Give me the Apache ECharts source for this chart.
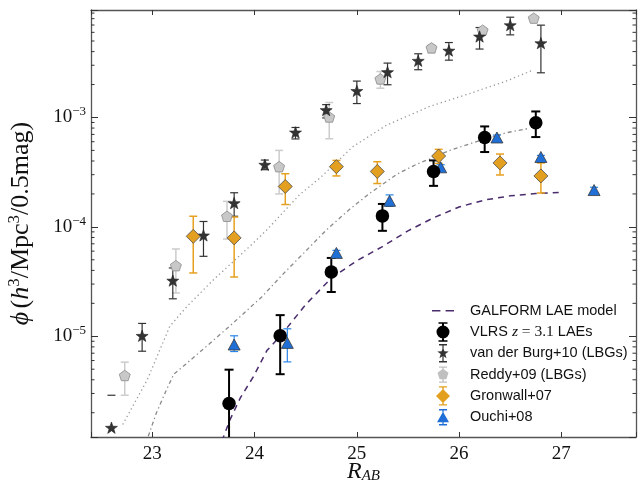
<!DOCTYPE html>
<html><head><meta charset="utf-8">
<script src="https://cdn.jsdelivr.net/npm/echarts@6/dist/echarts.min.js"></script>
<style>html,body{margin:0;padding:0;background:#fff}#c{width:643px;height:485px}</style>
</head><body><div id="c"></div>
<script>
// ---- axis ticks ----
const xTicks = [23, 24, 25, 26, 27];
const yTickExps = [-5, -4, -3];
const xMin = 22.4, xMax = 27.73, yMin = 1.2e-6, yMax = 9.6e-3;

// ---- series names ----
const names = ['GALFORM LAE model', 'VLRS z = 3.1 LAEs', 'van der Burg+10 (LBGs)', 'Reddy+09 (LBGs)', 'Gronwall+07', 'Ouchi+08'];

// ---- model lines ----
const galformX = [23.68, 23.76, 23.86, 23.99, 24.12, 24.25, 24.5, 24.75, 25.0, 25.25, 25.5, 25.75, 26.0, 26.25, 26.5, 26.75, 27.0];
const galformY = [1.1e-6, 1.73e-6, 2.73e-6, 4.3e-6, 7.4e-6, 1.0e-5, 1.95e-5, 3.4e-5, 4.9e-5, 6.6e-5, 9.2e-5, 1.21e-4, 1.52e-4, 1.76e-4, 1.92e-4, 2.02e-4, 2.07e-4];
const lbgModelX = [22.71, 22.95, 23.17, 23.34, 23.6, 23.95, 24.12, 24.44, 24.64, 24.96, 25.29, 25.71, 26.1, 26.46, 26.73];
const lbgModelY = [1.56e-6, 4.0e-6, 1.23e-5, 1.88e-5, 3.3e-5, 6.6e-5, 9.4e-5, 1.97e-4, 2.8e-4, 5.4e-4, 8.5e-4, 1.26e-3, 1.65e-3, 2.15e-3, 2.73e-3];
const laeModelX = [22.96, 23.04, 23.14, 23.21, 23.34, 23.53, 23.79, 24.07, 24.28, 24.48, 24.7, 24.93, 25.13, 25.39, 25.58, 25.71, 25.91, 26.14, 26.46, 26.68];
const laeModelY = [1.22e-6, 2.0e-6, 3.27e-6, 4.5e-6, 5.7e-6, 8.1e-6, 1.32e-5, 2.29e-5, 3.72e-5, 5.75e-5, 9.33e-5, 1.45e-4, 2.04e-4, 3.02e-4, 3.72e-4, 4.17e-4, 5.01e-4, 5.89e-4, 7.24e-4, 7.94e-4];

// ---- VLRS ----
const vlrsX  = [23.75, 24.25, 24.75, 25.25, 25.75, 26.25, 26.75];
const vlrsY  = [2.43e-6, 1.01e-5, 3.87e-5, 1.26e-4, 3.21e-4, 6.56e-4, 8.95e-4];
const vlrsLo = [5e-7, 4.5e-6, 2.54e-5, 9.2e-5, 2.37e-4, 4.83e-4, 6.62e-4];
const vlrsHi = [4.95e-6, 1.56e-5, 5.2e-5, 1.62e-4, 4.05e-4, 8.28e-4, 1.135e-3];

// ---- van der Burg+10 ----
const vdbX  = [22.6, 22.9, 23.2, 23.5, 23.8, 24.1, 24.4, 24.7, 25.0, 25.3, 25.6, 25.9, 26.2, 26.5, 26.8];
const vdbY  = [1.46e-6, 1.01e-5, 3.23e-5, 8.36e-5, 1.65e-4, 3.7e-4, 7.3e-4, 1.17e-3, 1.75e-3, 2.6e-3, 3.3e-3, 4.09e-3, 5.5e-3, 6.98e-3, 4.78e-3];
const vdbLo = [0, 7.3e-6, 2.2e-5, 5.38e-5, 1.25e-4, 3.33e-4, 6.36e-4, 9.9e-4, 1.34e-3, 1.99e-3, 2.73e-3, 3.34e-3, 4.22e-3, 5.69e-3, 2.56e-3];
const vdbHi = [2.89e-6, 1.31e-5, 4.21e-5, 1.12e-4, 2.05e-4, 4.08e-4, 8.1e-4, 1.31e-3, 2.15e-3, 3.14e-3, 3.82e-3, 4.84e-3, 6.64e-3, 8.25e-3, 6.98e-3];

// ---- Reddy+09 ----
const redX  = [22.73, 23.23, 23.73, 24.24, 24.73, 25.23, 25.73, 26.23, 26.73];
const redY  = [4.38e-6, 4.42e-5, 1.25e-4, 3.55e-4, 1.01e-3, 2.25e-3, 4.33e-3, 6.28e-3, 8.09e-3];
const redLo = [2.89e-6, 2.49e-5, 7.74e-5, 2.0e-4, 6.39e-4, 1.85e-3, 3.9e-3, 5.9e-3, 7.7e-3];
const redHi = [5.8e-6, 6.28e-5, 1.71e-4, 5.0e-4, 1.37e-3, 2.63e-3, 4.6e-3, 6.6e-3, 8.4e-3];

// ---- Gronwall+07 ----
const groX  = [23.4, 23.8, 24.3, 24.8, 25.2, 25.8, 26.4, 26.8];
const groY  = [8.19e-5, 7.93e-5, 2.34e-4, 3.55e-4, 3.21e-4, 4.44e-4, 3.84e-4, 2.92e-4];
const groLo = [3.79e-5, 3.48e-5, 1.6e-4, 2.92e-4, 2.49e-4, 3.8e-4, 2.98e-4, 2.04e-4];
const groHi = [1.25e-4, 1.23e-4, 3.06e-4, 4.05e-4, 3.94e-4, 5.11e-4, 4.63e-4, 3.84e-4];

// ---- Ouchi+08 ----
const ouX  = [23.8, 24.32, 24.8, 25.32, 25.82, 26.37, 26.8, 27.32];
const ouY  = [8.4e-6, 8.7e-6, 5.78e-5, 1.73e-4, 3.5e-4, 6.56e-4, 4.35e-4, 2.17e-4];
const ouLo = [7.25e-6, 5.83e-6, 5.4e-5, 1.54e-4, 3.3e-4, 6.2e-4, 3.94e-4, 2.05e-4];
const ouHi = [1.01e-5, 1.17e-5, 6.1e-5, 1.96e-4, 3.7e-4, 6.9e-4, 4.5e-4, 2.3e-4];

const pairs = (xs, ys) => xs.map((x, i) => [x, ys[i]]);
const quads = (xs, ys, lo, hi) => xs.map((x, i) => [x, ys[i], lo[i], hi[i]]);

const STAR = 'path://M0,-10L2.35,-3.24L9.51,-3.09L3.8,1.24L5.88,8.09L0,4L-5.88,8.09L-3.8,1.24L-9.51,-3.09L-2.35,-3.24Z';
const PENT = 'path://M0,-10L9.51,-3.09L5.88,8.09L-5.88,8.09L-9.51,-3.09Z';

// legend icons (marker + error bar), in a 22x20 box
const BOX = 'M-11,-10M11,10';
const bar = (h, w, c) => 'M' + (-w / 2) + ',' + (-h) + 'H' + (w / 2) + 'V' + h + 'H' + (-w / 2) + 'Z' +
  'M' + (-c) + ',' + (-h - 0.7) + 'H' + c + 'V' + (-h + 0.7) + 'H' + (-c) + 'Z' +
  'M' + (-c) + ',' + (h - 0.7) + 'H' + c + 'V' + (h + 0.7) + 'H' + (-c) + 'Z';
const ICONS = [
  'path://' + BOX + 'M-11,-0.75H-2.6V0.75H-11Z M2.6,-0.75H11V0.75H2.6Z',
  'path://' + BOX + 'M-6.5,0A6.5,6.5 0 1,1 6.5,0A6.5,6.5 0 1,1 -6.5,0Z' + bar(9, 2, 4.5),
  'path://' + BOX + 'M0,-6L1.41,-1.94L5.71,-1.85L2.28,0.74L3.53,4.85L0,2.4L-3.53,4.85L-2.28,0.74L-5.71,-1.85L-1.41,-1.94Z' + bar(8.5, 1.2, 4),
  'path://' + BOX + 'M0,-5.8L5.5,-1.8L3.4,4.7L-3.4,4.7L-5.5,-1.8Z' + bar(7.5, 1.3, 4),
  'path://' + BOX + 'M0,-7L7,0L0,7L-7,0Z' + bar(9, 1.4, 4),
  'path://' + BOX + 'M0,-5.5L6,5L-6,5Z' + bar(7.5, 1.2, 4)
];
const legendFill = ['#4a2c6d', '#000000', '#333333', '#c0c0c0', '#e3a020', '#1f6fd6'];

function errSeries(data, color, width, cap) {
  return {
    type: 'custom', name: '_err', clip: true, silent: true, z: 3,
    encode: {x: 0, y: 1},
    data: data,
    renderItem: function (params, api) {
      const x = api.value(0), lo = api.value(2), hi = api.value(3);
      const ph = api.coord([x, hi]);
      const st = {stroke: color, lineWidth: width};
      const ch = [];
      if (lo > 0) {
        const pl = api.coord([x, lo]);
        ch.push({type: 'line', shape: {x1: pl[0], y1: pl[1], x2: ph[0], y2: ph[1]}, style: st});
        ch.push({type: 'line', shape: {x1: pl[0] - cap, y1: pl[1], x2: pl[0] + cap, y2: pl[1]}, style: st});
      }
      ch.push({type: 'line', shape: {x1: ph[0] - cap, y1: ph[1], x2: ph[0] + cap, y2: ph[1]}, style: st});
      return {type: 'group', children: ch};
    }
  };
}

// minor tick positions (2..9 x 10^n inside the range)
const minorVals = [];
for (let e = -6; e <= -3; e++) for (let m = 2; m <= 9; m++) {
  const v = m * Math.pow(10, e);
  if (v > yMin && v < yMax) minorVals.push([xMin, v]);
}

const frame = {color: '#555', width: 1.3};
const serif = 'Liberation Serif';

const option = {
  animation: false,
  backgroundColor: '#fff',
  grid: {left: 91, right: 7, top: 10, bottom: 48, outerBoundsMode: 'none', containLabel: false},
  xAxis: [{
    type: 'value', min: xMin, max: xMax, position: 'bottom',
    axisLine: {show: true, onZero: false, lineStyle: frame},
    axisTick: {show: true, inside: true, length: 5, lineStyle: {color: '#333', width: 1}},
    splitLine: {show: false},
    axisLabel: {
      margin: 8, color: '#111', fontFamily: serif, fontSize: 19,
      formatter: v => xTicks.includes(Math.round(v * 1000) / 1000) ? String(v) : ''
    },
    name: '{r|R}{s|AB}', nameLocation: 'middle', nameGap: 22, nameMoveOverlap: false,
    nameTextStyle: {
      rich: {
        r: {fontFamily: serif, fontStyle: 'italic', fontSize: 24, color: '#111'},
        s: {fontFamily: serif, fontStyle: 'italic', fontSize: 15, color: '#111', padding: [10, 0, 0, 0]}
      }
    }
  }, {
    type: 'value', min: xMin, max: xMax, position: 'top',
    axisLine: {show: true, onZero: false, lineStyle: frame},
    axisTick: {show: true, inside: true, length: 5, lineStyle: {color: '#333', width: 1}},
    axisLabel: {show: false}, splitLine: {show: false}
  }],
  yAxis: [{
    type: 'log', logBase: 10, min: yMin, max: yMax, position: 'left',
    axisLine: {show: true, onZero: false, lineStyle: frame},
    axisTick: {show: true, inside: true, length: 7, lineStyle: {color: '#333', width: 1}},
    splitLine: {show: false}, minorTick: {show: false},
    axisLabel: {
      margin: 5, color: '#111',
      formatter: function (v) {
        const e = Math.log10(v), r = Math.round(e);
        if (Math.abs(e - r) < 1e-6 && yTickExps.includes(r)) return '{b|10}{e|\u2212' + (-r) + '}';
        return '';
      },
      rich: {
        b: {fontFamily: serif, fontSize: 19, color: '#111'},
        e: {fontFamily: serif, fontSize: 13, color: '#111', padding: [0, 0, 11, 0]}
      }
    },
    name: '{i|\u03D5} {a|(}{i|h}{s|3}{a|/Mpc}{s|3}{a|/0.5mag)}',
    nameLocation: 'middle', nameGap: 55, nameRotate: 90, nameMoveOverlap: false,
    nameTextStyle: {
      rich: {
        a: {fontFamily: serif, fontSize: 26, color: '#111'},
        i: {fontFamily: serif, fontStyle: 'italic', fontSize: 26, color: '#111'},
        s: {fontFamily: serif, fontSize: 17, color: '#111', padding: [0, 0, 13, 0]}
      }
    }
  }, {
    type: 'log', logBase: 10, min: yMin, max: yMax, position: 'right',
    axisLine: {show: true, onZero: false, lineStyle: frame},
    axisTick: {show: true, inside: true, length: 7, lineStyle: {color: '#333', width: 1}},
    axisLabel: {show: false}, splitLine: {show: false}
  }],
  legend: {
    orient: 'vertical', left: 432, top: 300.7, padding: 0, itemWidth: 22, itemHeight: 20, itemGap: 1.3,
    selectedMode: false, align: 'left', symbolKeepAspect: true,
    data: names.map((n, i) => ({name: n, icon: ICONS[i],
      itemStyle: {color: legendFill[i], borderWidth: 0, opacity: 1}})),
    formatter: function (n) {
      if (n === names[1]) return '{t|VLRS }{m|z}{n| = 3.1}{t| LAEs}';
      return n;
    },
    textStyle: {
      fontFamily: 'Liberation Sans', fontSize: 14.5, color: '#111', lineHeight: 14, padding: [0, 0, 0, 11],
      rich: {
        t: {fontFamily: 'Liberation Sans', fontSize: 14.5, color: '#111', lineHeight: 14},
        m: {fontFamily: serif, fontStyle: 'italic', fontSize: 15.5, color: '#111', lineHeight: 14},
        n: {fontFamily: serif, fontSize: 15.5, color: '#111', lineHeight: 14}
      }
    }
  },
  series: [
    {type: 'line', name: '_lbgmodel', data: pairs(lbgModelX, lbgModelY), showSymbol: false, symbol: 'none', z: 1,
      lineStyle: {color: '#9a9a9a', width: 1.3, type: [1.3, 3]}, silent: true},
    {type: 'line', name: '_laemodel', data: pairs(laeModelX, laeModelY), showSymbol: false, symbol: 'none', z: 1,
      lineStyle: {color: '#8a8a8a', width: 1.3, type: [4, 3, 1.3, 3]}, silent: true},
    {type: 'line', name: names[0], data: pairs(galformX, galformY), showSymbol: false, symbol: 'none', z: 1,
      itemStyle: {color: '#4a2c6d'},
      lineStyle: {color: '#4a2c6d', width: 1.5, type: [6, 5]}},
    {type: 'custom', name: '_minor', silent: true, z: 5, data: minorVals, encode: {x: 0, y: 1},
      renderItem: function (params, api) {
        const p = api.coord([xMin, api.value(1)]);
        const q = api.coord([xMax, api.value(1)]);
        const st = {stroke: '#333', lineWidth: 1};
        return {type: 'group', children: [
          {type: 'line', shape: {x1: p[0], y1: p[1], x2: p[0] + 3.5, y2: p[1]}, style: st},
          {type: 'line', shape: {x1: q[0] - 3.5, y1: q[1], x2: q[0], y2: q[1]}, style: st}
        ]};
      }},
    errSeries(quads(redX, redY, redLo, redHi), '#cccccc', 1.5, 4),
    {type: 'scatter', name: names[3], data: pairs(redX, redY), symbol: PENT, symbolSize: 11, symbolKeepAspect: true, z: 4,
      itemStyle: {color: '#c8c8c8', borderColor: '#8a8a8a', borderWidth: 0.8, opacity: 1}},
    errSeries(quads(vdbX, vdbY, vdbLo, vdbHi), '#333333', 1.2, 4),
    {type: 'scatter', name: names[2], data: pairs(vdbX, vdbY), symbol: STAR, symbolSize: 12, symbolKeepAspect: true, z: 4,
      itemStyle: {color: '#333333', borderColor: '#222', borderWidth: 0.6, opacity: 1}},
    errSeries(quads(groX, groY, groLo, groHi), '#e6a020', 1.5, 4),
    {type: 'scatter', name: names[4], data: pairs(groX, groY), symbol: 'diamond', symbolSize: 14, z: 4,
      itemStyle: {color: '#e3a020', borderColor: '#4d4d4d', borderWidth: 0.8, opacity: 1}},
    errSeries(quads(ouX, ouY, ouLo, ouHi), '#2a85e8', 1.2, 4),
    {type: 'scatter', name: names[5], data: pairs(ouX, ouY), symbol: 'triangle', symbolSize: [12, 11], z: 4,
      itemStyle: {color: '#1f6fd6', borderColor: '#3a3a3a', borderWidth: 0.8, opacity: 1}},
    errSeries(quads(vlrsX, vlrsY, vlrsLo, vlrsHi), '#000000', 2, 4.5),
    {type: 'scatter', name: names[1], data: pairs(vlrsX, vlrsY), symbol: 'circle', symbolSize: 13.5, z: 4,
      itemStyle: {color: '#000000', opacity: 1}}
  ]
};

const chart = echarts.init(document.getElementById('c'), null, {renderer: 'canvas'});
chart.setOption(option);
</script>
</body></html>
